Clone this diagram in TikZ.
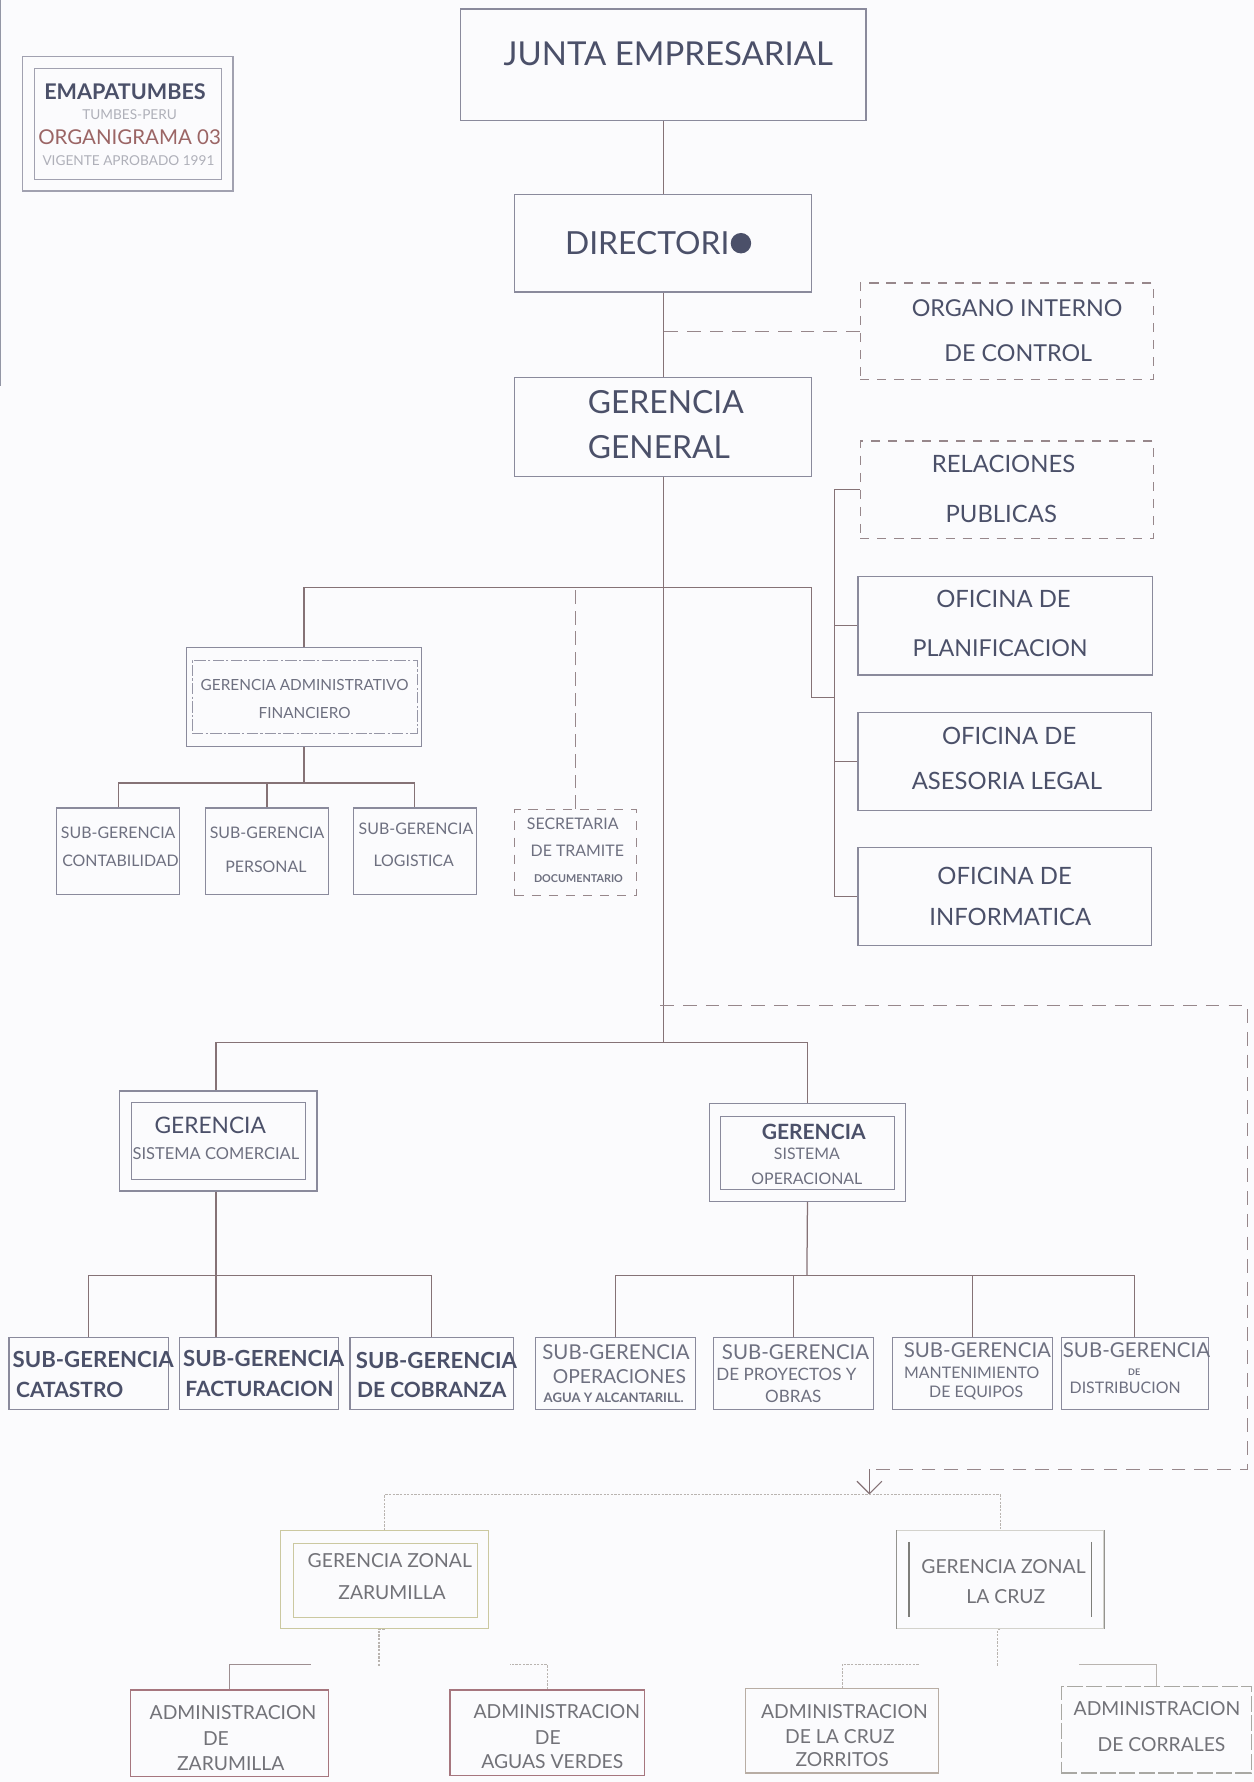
\documentclass[tikz,border=0pt]{standalone}
\usepackage{fontspec}
\setmainfont{Lato}
\usetikzlibrary{fit,calc,arrows.meta}

\definecolor{paper}{HTML}{FBFBFD}
\definecolor{ink}{HTML}{4B5069}
\definecolor{inkl}{HTML}{6E7080}
\definecolor{inkz}{HTML}{727278}
\definecolor{boxc}{HTML}{8A8A9C}
\definecolor{wire}{HTML}{857276}
\definecolor{rust}{HTML}{9B6565}
\definecolor{olive}{HTML}{CBC8A0}
\definecolor{rosebox}{HTML}{A6767E}
\definecolor{pale}{HTML}{B9B4B0}
\definecolor{cruzbox}{HTML}{B8ADA4}
\definecolor{faint}{HTML}{D3D2CC}

\newcommand\fsz[1]{\fontsize{#1}{#1}\selectfont}

\begin{document}
\begin{tikzpicture}[x=1pt,y=-1pt,
  box/.style={draw=boxc, line width=1.1pt, inner sep=0pt},
  dbox/.style={draw=wire!85, line width=1pt, dash pattern=on 8pt off 7pt, inner sep=0pt},
  txt/.style={inner sep=0pt, text=ink},
  conn/.style={draw=wire, line width=1.1pt},
  dconn/.style={draw=wire!85, line width=1pt, dash pattern=on 12pt off 8pt},
  zdot/.style={draw=pale, line width=1pt, dash pattern=on 2pt off 1.2pt}]

% sheet
\fill[paper] (0,0) rectangle (1103,1568);
\useasboundingbox (0,0) rectangle (1103,1568);
\draw[ink!60, line width=1pt] (0.7,0) -- (0.7,340);

% ---- title block ----
\node[box, draw=boxc!80, fit={(20,50) (205,168)}] (leg) {};
\node[box, draw=boxc!80, line width=0.9pt, fit={(30,60) (195,158)}] (legin) {};
\node[txt, font=\bfseries\fsz{19}] (legA) at (110,81) {EMAPATUMBES};
\node[txt, font=\fsz{12}, text=inkl!55] (legB) at (114,101) {TUMBES-PERU};
\node[txt, font=\fsz{18}, text=rust] (legC) at (114,121) {ORGANIGRAMA 03};
\node[txt, font=\fsz{12}, text=inkl!55] (legD) at (113,141) {VIGENTE APROBADO 1991};

% ---- top levels ----
\node[box, fit={(405,8) (762,106)}] (junta) {};
\node[txt, font=\fsz{29}] (juntaT) at (588,47) {JUNTA EMPRESARIAL};

\node[box, fit={(453,171) (714,257)}] (dir) {};
\node[txt, font=\fsz{28}, anchor=west] (dirT) at (497,214) {DIRECTORI};
\fill[ink] ($(dirT.east)+(10,0)$) circle (9);

\node[dbox, fit={(757,249) (1015,334)}] (oci) {};
\node[txt, font=\fsz{20.5}] (ociA) at (895,271) {ORGANO INTERNO};
\node[txt, font=\fsz{20.5}] (ociB) at (896,311) {DE CONTROL};

\node[box, fit={(453,332) (714,419)}] (gg) {};
\node[txt, font=\fsz{28}, anchor=west] (ggA) at (517,354) {GERENCIA};
\node[txt, font=\fsz{28}, anchor=west] (ggB) at (517,393) {GENERAL};

% ---- staff offices ----
\node[dbox, fit={(757,388) (1015,474)}] (rel) {};
\node[txt, font=\fsz{21}] (relA) at (883,408) {RELACIONES};
\node[txt, font=\fsz{21}] (relB) at (881,452) {PUBLICAS};

\node[box, fit={(755,507) (1014,594)}] (pla) {};
\node[txt, font=\fsz{21}] (plaA) at (883,527) {OFICINA DE};
\node[txt, font=\fsz{20.5}] (plaB) at (880,570) {PLANIFICACION};

\node[box, fit={(755,627) (1013,713)}] (ase) {};
\node[txt, font=\fsz{21}] (aseA) at (888,648) {OFICINA DE};
\node[txt, font=\fsz{21}] (aseB) at (886,687) {ASESORIA LEGAL};

\node[box, fit={(755,746) (1013,832)}] (inf) {};
\node[txt, font=\fsz{21}] (infA) at (884,771) {OFICINA DE};
\node[txt, font=\fsz{21}] (infB) at (889,807) {INFORMATICA};

% ---- administration branch ----
\node[box, line width=0.9pt, fit={(164,570) (371,657)}] (ga) {};
\node[draw=boxc!90, line width=0.9pt, dash pattern=on 10pt off 2pt on 2pt off 2pt, inner sep=0pt, fit={(169,581) (367,645)}] (gain) {};
\node[txt, font=\fsz{13.5}, text=inkl] (gaA) at (268,603) {GERENCIA ADMINISTRATIVO};
\node[txt, font=\fsz{13.5}, text=inkl] (gaB) at (268,627) {FINANCIERO};

\node[box, fit={(50,711) (158,787)}] (sgc) {};
\node[txt, font=\fsz{14}, text=inkl] (sgcA) at (104,733) {SUB-GERENCIA};
\node[txt, font=\fsz{14}, text=inkl] (sgcB) at (106,757) {CONTABILIDAD};
\node[box, fit={(181,711) (289,787)}] (sgp) {};
\node[txt, font=\fsz{14}, text=inkl] (sgpA) at (235,733) {SUB-GERENCIA};
\node[txt, font=\fsz{14}, text=inkl] (sgpB) at (234,763) {PERSONAL};
\node[box, fit={(311,711) (419,787)}] (sgl) {};
\node[txt, font=\fsz{14}, text=inkl] (sglA) at (366,729) {SUB-GERENCIA};
\node[txt, font=\fsz{14}, text=inkl] (sglB) at (364,757) {LOGISTICA};

\node[dbox, fit={(453,712) (560,788)}] (sec) {};
\node[txt, font=\fsz{14}, text=inkl] (secA) at (504,725) {SECRETARIA};
\node[txt, font=\fsz{14}, text=inkl] (secB) at (508,749) {DE TRAMITE};
\node[txt, font=\bfseries\fsz{9.5}, text=inkl] (secC) at (509,773) {DOCUMENTARIO};

% ---- commercial branch ----
\node[box, fit={(105,960) (279,1048)}] (gc) {};
\node[box, line width=0.9pt, fit={(116,970) (269,1038)}] (gcin) {};
\node[txt, font=\fsz{20}] (gcA) at (185,990) {GERENCIA};
\node[txt, font=\fsz{14.5}, text=inkl] (gcB) at (190,1015) {SISTEMA COMERCIAL};

\node[box, fit={(8,1177) (148,1240)}] (s1) {};
\node[txt, font=\bfseries\fsz{19.5}, anchor=west] (s1A) at (11,1196) {SUB-GERENCIA};
\node[txt, font=\bfseries\fsz{18.5}, anchor=west] (s1B) at (14,1223) {CATASTRO};
\node[box, fit={(158,1177) (298,1240)}] (s2) {};
\node[txt, font=\bfseries\fsz{19.5}, anchor=west] (s2A) at (161,1195) {SUB-GERENCIA};
\node[txt, font=\bfseries\fsz{18.5}, anchor=west] (s2B) at (163,1222) {FACTURACION};
\node[box, fit={(308,1177) (452,1240)}] (s3) {};
\node[txt, font=\bfseries\fsz{19.5}, anchor=west] (s3A) at (313,1197) {SUB-GERENCIA};
\node[txt, font=\bfseries\fsz{18.5}, anchor=west] (s3B) at (314,1223) {DE COBRANZA};

% ---- operational branch ----
\node[box, fit={(624,971) (797,1057)}] (go) {};
\node[box, line width=0.9pt, fit={(634,982) (787,1047)}] (goin) {};
\node[txt, font=\bfseries\fsz{18.5}] (goA) at (716,996) {GERENCIA};
\node[txt, font=\fsz{14}, text=inkl] (goB) at (710,1015) {SISTEMA};
\node[txt, font=\fsz{14}, text=inkl] (goC) at (710,1037) {OPERACIONAL};

\node[box, line width=0.9pt, fit={(471,1177) (612,1240)}] (o1) {};
\node[txt, font=\fsz{18}, text=inkl] (o1A) at (542,1190) {SUB-GERENCIA};
\node[txt, font=\fsz{17}, text=inkl] (o1B) at (545,1211) {OPERACIONES};
\node[txt, font=\bfseries\fsz{11.5}, text=inkl] (o1C) at (540,1230) {AGUA Y ALCANTARILL.};
\node[box, line width=0.9pt, fit={(628,1177) (769,1240)}] (o2) {};
\node[txt, font=\fsz{18}, text=inkl] (o2A) at (700,1190) {SUB-GERENCIA};
\node[txt, font=\fsz{15}, text=inkl] (o2B) at (692,1209) {DE PROYECTOS Y};
\node[txt, font=\fsz{15}, text=inkl] (o2C) at (698,1229) {OBRAS};
\node[box, line width=0.9pt, fit={(785,1177) (926,1240)}] (o3) {};
\node[txt, font=\fsz{18}, text=inkl] (o3A) at (860,1188) {SUB-GERENCIA};
\node[txt, font=\fsz{14}, text=inkl] (o3B) at (855,1208) {MANTENIMIENTO};
\node[txt, font=\fsz{14}, text=inkl] (o3C) at (859,1226) {DE EQUIPOS};
\node[box, line width=0.9pt, fit={(934,1177) (1063,1240)}] (o4) {};
\node[txt, font=\fsz{18}, text=inkl] (o4A) at (1000,1188) {SUB-GERENCIA};
\node[txt, font=\bfseries\fsz{8}, text=inkl] (o4B) at (998,1207) {DE};
\node[txt, font=\fsz{14}, text=inkl] (o4C) at (990,1221) {DISTRIBUCION};

% ---- zonal management ----
\node[box, draw=olive, fit={(247,1347) (430,1433)}] (z1) {};
\node[box, draw=olive, line width=0.9pt, fit={(258,1358) (420,1423)}] (z1in) {};
\node[txt, font=\fsz{17}, text=inkz] (z1A) at (343,1373) {GERENCIA ZONAL};
\node[txt, font=\fsz{17}, text=inkz] (z1B) at (345,1401) {ZARUMILLA};

\node[box, draw=faint, fit={(789,1347) (971,1433)}] (z2) {};
\draw[faint!70!black, line width=1pt] (z2.north west) -- (z2.south west) (z2.north east) -- (z2.south east);
\node[inner sep=0pt, fit={(800,1357) (960,1423)}] (z2in) {};
\draw[faint!60!black, line width=1pt] (z2in.north west) -- (z2in.south west) (z2in.north east) -- (z2in.south east);
\node[txt, font=\fsz{17}, text=inkz] (z2A) at (883,1378) {GERENCIA ZONAL};
\node[txt, font=\fsz{17}, text=inkz] (z2B) at (885,1405) {LA CRUZ};

\node[box, draw=rosebox, fit={(115,1487) (289,1563)}] (a1) {};
\node[txt, font=\fsz{17}, text=inkz] (a1A) at (205,1507) {ADMINISTRACION};
\node[txt, font=\fsz{17}, text=inkz] (a1B) at (190,1530) {DE};
\node[txt, font=\fsz{17}, text=inkz] (a1C) at (203,1552) {ZARUMILLA};

\node[box, draw=rosebox, fit={(396,1487) (567,1562)}] (a2) {};
\node[txt, font=\fsz{17}, text=inkz] (a2A) at (490,1506) {ADMINISTRACION};
\node[txt, font=\fsz{17}, text=inkz] (a2B) at (482,1529) {DE};
\node[txt, font=\fsz{17}, text=inkz] (a2C) at (486,1550) {AGUAS VERDES};

\node[box, draw=cruzbox, fit={(656,1486) (826,1560)}] (a3) {};
\node[txt, font=\fsz{17}, text=inkz] (a3A) at (743,1506) {ADMINISTRACION};
\node[txt, font=\fsz{17}, text=inkz] (a3B) at (739,1528) {DE LA CRUZ};
\node[txt, font=\fsz{17}, text=inkz] (a3C) at (741,1548) {ZORRITOS};

\node[box, draw=faint!80!black, dash pattern=on 14pt off 3pt, fit={(934,1484) (1101,1560)}] (a4) {};
\node[txt, font=\fsz{17}, text=inkz] (a4A) at (1018,1503) {ADMINISTRACION};
\node[txt, font=\fsz{17}, text=inkz] (a4B) at (1022,1535) {DE CORRALES};

% ---- junction points ----
\coordinate (bL) at (714,517);
\coordinate (bR) at (735,614);
\coordinate (gaj) at (266,689);
\coordinate (mj) at (581,917);
\coordinate (gcj) at (190,1122);
\coordinate (goj) at (710,1122);
\coordinate (dA) at (581,885);
\coordinate (dB) at (1098,885);
\coordinate (dC) at (1098,1293);
\coordinate (dD) at (765,1293);
\coordinate (zj) at (765,1315);

% ---- connectors ----
\draw[conn] (junta.south) -- (dir.north);
\draw[conn] (dir.south) -- (gg.north);
\draw[dconn] (oci.west) -- (oci.west -| gg.north);
\draw[conn] (gg.south) -- (gg.south |- mj);

% staff bus on the right
\draw[conn] (rel.west) -- ++(-22,0) |- (inf.west);
\draw[conn] (pla.west) -- ++(-20,0);
\draw[conn] (ase.west) -- ++(-20,0);
\draw[conn] (ga.north) |- (bL) |- (bR);
\draw[dconn, dash pattern=on 12pt off 6pt] (sec.north) -- (sec.north |- bL);

% administration subunits
\draw[conn] (ga.south) -- (ga.south |- gaj);
\draw[conn] (sgc.north) |- (gaj) -| (sgl.north);
\draw[conn] (sgp.north) -- (sgp.north |- gaj);

% two operating branches
\draw[conn] (gc.north -| gcj) |- (mj) -| (go.north);
\draw[conn] (gc.south -| gcj) -- (s2.north -| gcj);
\draw[conn] (s1.north) |- (gcj) -| (s3.north);
\draw[conn] (go.south) -- (goj);
\draw[conn] (o1.north) |- (goj) -| (o4.north);
\draw[conn] (o2.north) -- (o2.north |- goj);
\draw[conn] (o3.north) -- (o3.north |- goj);

% dashed link down to the zonal offices
\draw[dconn] (dA) -- (dB) -- (dC) -- (dD);
\draw[conn, line width=1pt, -{Straight Barb[length=11pt,width=22pt,line width=1pt]}] (dD) -- (zj);

% zonal offices
\draw[zdot] (z1.north) |- (zj) -| (z2.north);
\draw[zdot] (z1.south) -- ++(-5,0) -- ++(0,32);
\draw[conn, draw=wire!80] (a1.north) |- ++(72,-22);
\draw[zdot] (a2.north) |- ++(-33,-22);
\draw[zdot] (z2.south) -- ++(-2,0) -- ++(0,32);
\draw[zdot] (a3.north) |- ++(68,-21);
\draw[conn, draw=pale] (a4.north) |- ++(-68,-19);

\end{tikzpicture}
\end{document}
